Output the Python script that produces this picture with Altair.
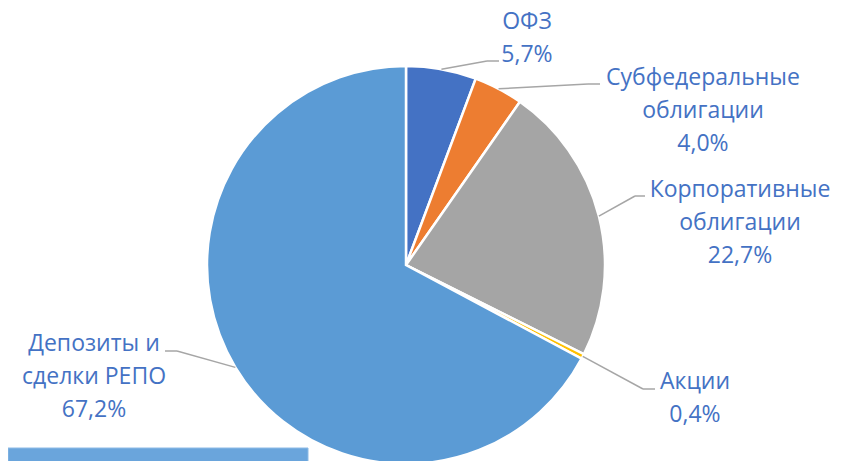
import altair as alt
import pandas as pd

# ---- data ----
categories = ["ОФЗ", "Субфедеральные облигации", "Корпоративные облигации",
              "Акции", "Депозиты и сделки РЕПО"]
values = [5.7, 4.0, 22.7, 0.4, 67.2]
label_texts = ["ОФЗ\n5,7%", "Субфедеральные\nоблигации\n4,0%",
               "Корпоративные\nоблигации\n22,7%", "Акции\n0,4%",
               "Депозиты и\nсделки РЕПО\n67,2%"]

# ---- style / layout ----
colors = ["#4472C4", "#ED7D31", "#A5A5A5", "#FFC000", "#5B9BD5"]
TEXT_COLOR = "#4472C4"
LEADER_COLOR = "#A6A6A6"
W, H = 828, 453
CX, CY, R = 398, 257, 199
# label first-line centres and leader elbows/ends (view pixel coords)
label_x = [519, 695, 732, 687, 86]
label_y = [14, 70, 182, 374, 336]
elbow_x = [479, 580, 627, 635, 169]
elbow_y = [53, 76, 188, 381, 343]
end_x = [491, 592, 637, 647, 157]

df = pd.DataFrame({
    "idx": list(range(len(categories))),
    "category": categories,
    "value": values,
    "label": label_texts,
    "lx": label_x, "ly": label_y,
    "elx": elbow_x, "ely": elbow_y, "enx": end_x,
})

base = alt.Chart(df).transform_window(
    cum="sum(value)", sort=[alt.SortField("idx")], frame=[None, 0]
).transform_joinaggregate(
    total="sum(value)"
).transform_calculate(
    mid="(datum.cum - datum.value/2) / datum.total * 2 * PI",
).transform_calculate(
    ex=f"{CX} + {R} * sin(datum.mid)",
    ey=f"{CY} - {R} * cos(datum.mid)",
)

pie = alt.Chart(df).mark_arc(
    outerRadius=R, stroke="white", strokeWidth=2.5
).encode(
    theta=alt.Theta("value:Q", stack=True),
    order=alt.Order("idx:Q"),
    color=alt.Color("category:N", sort=categories,
                    scale=alt.Scale(domain=categories, range=colors), legend=None),
    x=alt.value(CX), y=alt.value(CY),
)

leader1 = base.mark_rule(color=LEADER_COLOR, strokeWidth=1.5).encode(
    x=alt.X("ex:Q", scale=None, axis=None),
    y=alt.Y("ey:Q", scale=None, axis=None),
    x2="elx:Q", y2="ely:Q",
)
leader2 = base.mark_rule(color=LEADER_COLOR, strokeWidth=1.5).encode(
    x=alt.X("elx:Q", scale=None, axis=None),
    y=alt.Y("ely:Q", scale=None, axis=None),
    x2="enx:Q",
)
labels = base.mark_text(
    align="center", baseline="middle", lineBreak="\n", lineHeight=33,
    fontSize=23, font="Open Sans", color=TEXT_COLOR
).encode(
    x=alt.X("lx:Q", scale=None, axis=None),
    y=alt.Y("ly:Q", scale=None, axis=None),
    text="label:N",
)

bar = alt.Chart(pd.DataFrame({"k": [0]})).mark_rect(
    color="#6AA5DC", stroke="#8DBBE6", strokeWidth=1
).encode(
    x=alt.value(0), x2=alt.value(300), y=alt.value(440), y2=alt.value(460)
)

chart = alt.layer(pie, leader1, leader2, labels, bar).properties(
    width=W, height=H, padding=0, autosize="none"
).configure_view(stroke=None)

chart.save("out.html", embed_options={"renderer": "svg", "actions": False})
